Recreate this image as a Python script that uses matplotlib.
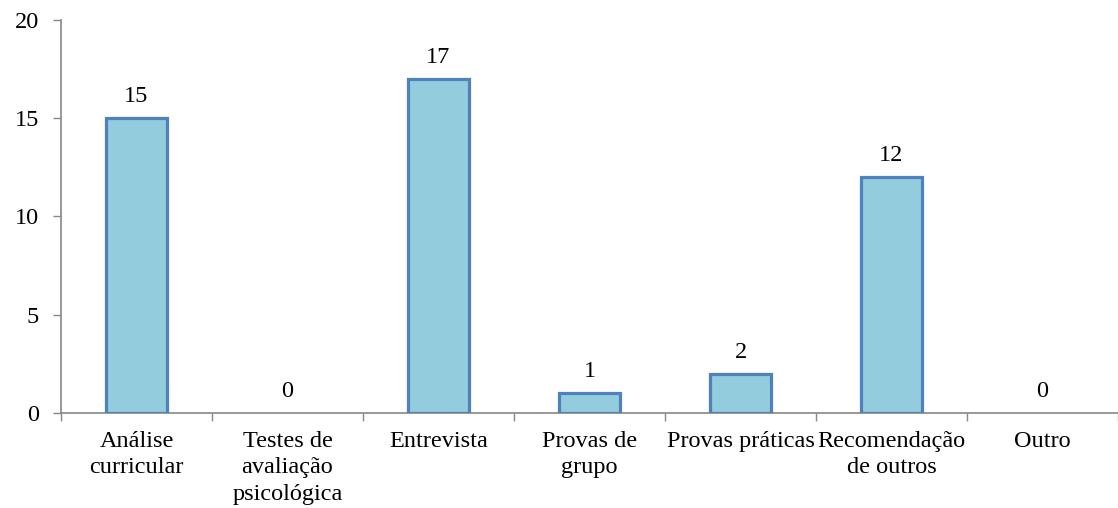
import matplotlib
matplotlib.use("Agg")
import matplotlib.pyplot as plt

categories = ["Análise\ncurricular", "Testes de\navaliação\npsicológica", "Entrevista",
              "Provas de\ngrupo", "Provas práticas", "Recomendação\nde outros", "Outro"]
values = [15, 0, 17, 1, 2, 12, 0]
y_ticks = [0, 5, 10, 15, 20]

plt.rcParams["font.family"] = ["Liberation Serif", "DejaVu Serif"]
FS = 17.5

W, H = 1118, 508
fig = plt.figure(figsize=(W / 100, H / 100), dpi=100)
ax = fig.add_axes([61 / W, (H - 413) / H, (W - 61) / W, (413 - 20) / H])

x = list(range(len(categories)))
edge_widths = [2.3 if v > 0 else 0 for v in values]
ax.bar(x, values, width=0.4, color="#93CDDD", edgecolor="#4F81BD",
       linewidth=edge_widths, zorder=3)

for xi, v in zip(x, values):
    ax.annotate(str(v), (xi, v), xytext=(0, 8), textcoords="offset points",
                ha="center", va="bottom", fontsize=FS)

ax.set_xlim(-0.5, -0.5 + (W - 61) / 151.5)
ax.set_ylim(0, 20)
ax.set_yticks(y_ticks)
ax.set_yticklabels([str(t) for t in y_ticks], fontsize=FS)

ax.set_xticks(x)
ax.set_xticklabels(categories, fontsize=FS, linespacing=1.33)
ax.tick_params(axis="x", length=0, pad=13)
ax.set_xticks([i - 0.5 for i in range(len(categories) + 1)], minor=True)
ax.tick_params(axis="x", which="minor", length=6, width=1, color="#888888", direction="out")
ax.tick_params(axis="y", length=6, width=1, color="#888888", direction="out", pad=10)

for side in ("top", "right"):
    ax.spines[side].set_visible(False)
for side in ("left", "bottom"):
    ax.spines[side].set_color("#888888")
    ax.spines[side].set_linewidth(1.2)

fig.savefig("out.png", dpi=100)
